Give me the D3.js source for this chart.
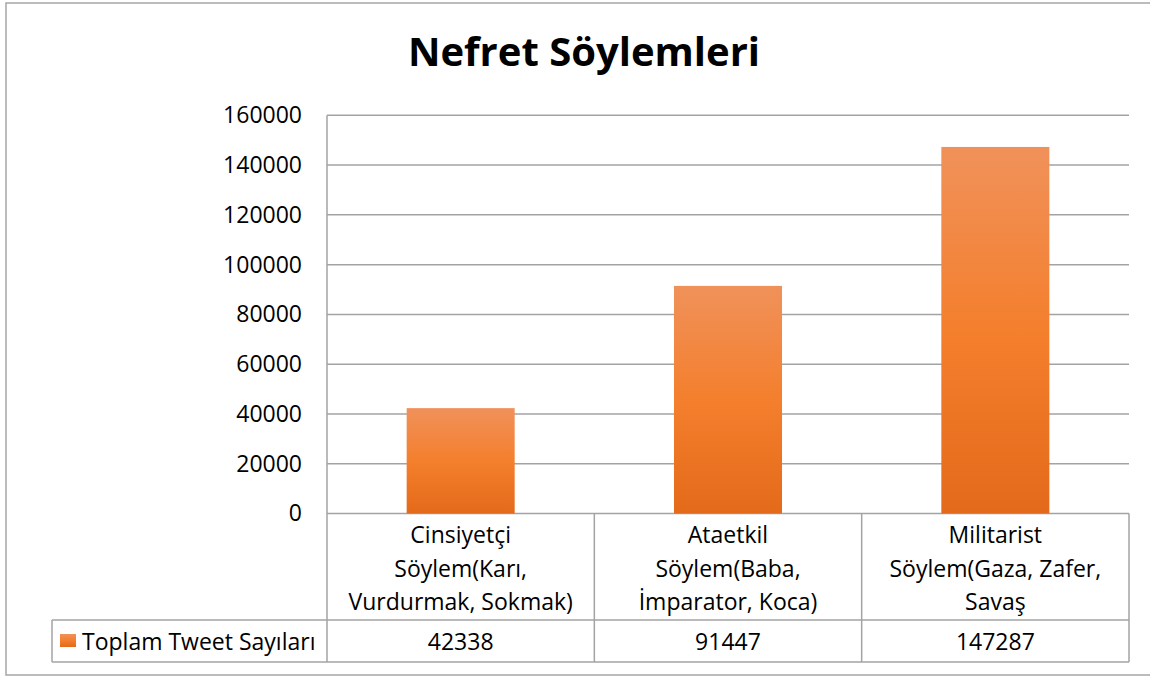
<!DOCTYPE html>
<html>
<head>
<meta charset="utf-8">
<script src="https://cdn.jsdelivr.net/npm/d3@7"></script>
<style>
  body { margin: 0; background: #fff; }
  text { font-family: "Open Sans", Lato, sans-serif; fill: #000; }
</style>
</head>
<body>
<div id="container"></div>
<script>
let title = "Nefret Söylemleri";
let seriesName = "Toplam Tweet Sayıları";
let categories = [
  ["Cinsiyetçi", "Söylem(Karı,", "Vurdurmak, Sokmak)"],
  ["Ataetkil", "Söylem(Baba,", "İmparator, Koca)"],
  ["Militarist", "Söylem(Gaza, Zafer,", "Savaş"]
];
let values = [42338, 91447, 147287];
let yTicks = [0, 20000, 40000, 60000, 80000, 100000, 120000, 140000, 160000];

let w = 1150;
let h = 677;
let plotLeft = 327;
let plotRight = 1129;
let plotTop = 115.3;
let plotBottom = 513.5;
let catRowBottom = 620;
let valRowBottom = 662;
let legendLeft = 52;
let gridColor = "#a3a3a3";
let fontSize = "23px";

let viz = d3.select("#container")
  .append("svg")
    .attr("width", w)
    .attr("height", h)
    .style("background-color", "#fff");

// bar gradient
let grad = viz.append("defs").append("linearGradient")
  .attr("id", "barGrad")
  .attr("x1", 0).attr("y1", 0).attr("x2", 0).attr("y2", 1);
grad.append("stop").attr("offset", "0%").attr("stop-color", "#f0915a");
grad.append("stop").attr("offset", "50%").attr("stop-color", "#f47f2d");
grad.append("stop").attr("offset", "100%").attr("stop-color", "#e36a1a");

// outer chart border
viz.append("rect")
  .attr("x", 6).attr("y", 3)
  .attr("width", 1160).attr("height", 672)
  .attr("fill", "none")
  .attr("stroke", "#a6a6a6")
  .attr("stroke-width", 1.5);

// title
viz.append("text")
  .attr("x", 584).attr("y", 66)
  .attr("text-anchor", "middle")
  .style("font-size", "40px")
  .style("font-weight", "bold")
  .text(title);

let xScale = d3.scaleBand()
  .domain(d3.range(values.length))
  .range([plotLeft, plotRight]);

let yScale = d3.scaleLinear()
  .domain([0, 160000])
  .range([plotBottom, plotTop]);

// gridlines
viz.append("g").selectAll("line")
  .data(yTicks)
  .enter().append("line")
    .attr("x1", plotLeft).attr("x2", plotRight)
    .attr("y1", d => yScale(d)).attr("y2", d => yScale(d))
    .attr("stroke", gridColor)
    .attr("stroke-width", 1.5);

// y axis labels
let yAxis = d3.axisLeft(yScale).tickValues(yTicks).tickSize(0).tickPadding(25).tickFormat(d3.format("d"));
let yAxisGroup = viz.append("g")
  .attr("transform", "translate(" + plotLeft + ",0)")
  .call(yAxis);
yAxisGroup.select(".domain").remove();
yAxisGroup.selectAll("text")
  .style("font-family", "'Open Sans', sans-serif")
  .style("font-size", fontSize)
  .attr("fill", "#000");

// bars
let barFrac = 0.404;
viz.append("g").selectAll("rect")
  .data(values)
  .enter().append("rect")
    .attr("x", (d, i) => xScale(i) + xScale.bandwidth() * (1 - barFrac) / 2)
    .attr("width", xScale.bandwidth() * barFrac)
    .attr("y", d => yScale(d))
    .attr("height", d => yScale(0) - yScale(d))
    .attr("fill", "url(#barGrad)");

// data table lines
let table = viz.append("g")
  .attr("stroke", gridColor)
  .attr("stroke-width", 1.5);
table.append("line")
  .attr("x1", plotLeft).attr("x2", plotLeft)
  .attr("y1", plotTop).attr("y2", valRowBottom);
[catRowBottom, valRowBottom].forEach(y => {
  table.append("line")
    .attr("x1", legendLeft).attr("x2", plotRight)
    .attr("y1", y).attr("y2", y);
});
table.append("line")
  .attr("x1", legendLeft).attr("x2", legendLeft)
  .attr("y1", catRowBottom).attr("y2", valRowBottom);
values.forEach((d, i) => {
  let x = xScale(i) + xScale.bandwidth();
  table.append("line")
    .attr("x1", x).attr("x2", x)
    .attr("y1", plotBottom).attr("y2", valRowBottom);
});

// category labels
let catGroups = viz.append("g").selectAll("text")
  .data(categories)
  .enter().append("text")
    .attr("text-anchor", "middle")
    .style("font-size", fontSize);
catGroups.selectAll("tspan")
  .data((d, i) => d.map(s => ({ s: s, i: i })))
  .enter().append("tspan")
    .attr("x", d => xScale(d.i) + xScale.bandwidth() / 2)
    .attr("y", (d, j) => 543 + j * 33.5)
    .text(d => d.s);

// values row
viz.append("g").selectAll("text")
  .data(values)
  .enter().append("text")
    .attr("x", (d, i) => xScale(i) + xScale.bandwidth() / 2)
    .attr("y", 650)
    .attr("text-anchor", "middle")
    .style("font-size", fontSize)
    .text(d => d);

// legend key
viz.append("rect")
  .attr("x", 60).attr("y", 634)
  .attr("width", 16).attr("height", 13)
  .attr("fill", "url(#barGrad)");
viz.append("text")
  .attr("x", 82).attr("y", 650)
  .style("font-size", fontSize)
  .text(seriesName);
</script>
</body>
</html>
